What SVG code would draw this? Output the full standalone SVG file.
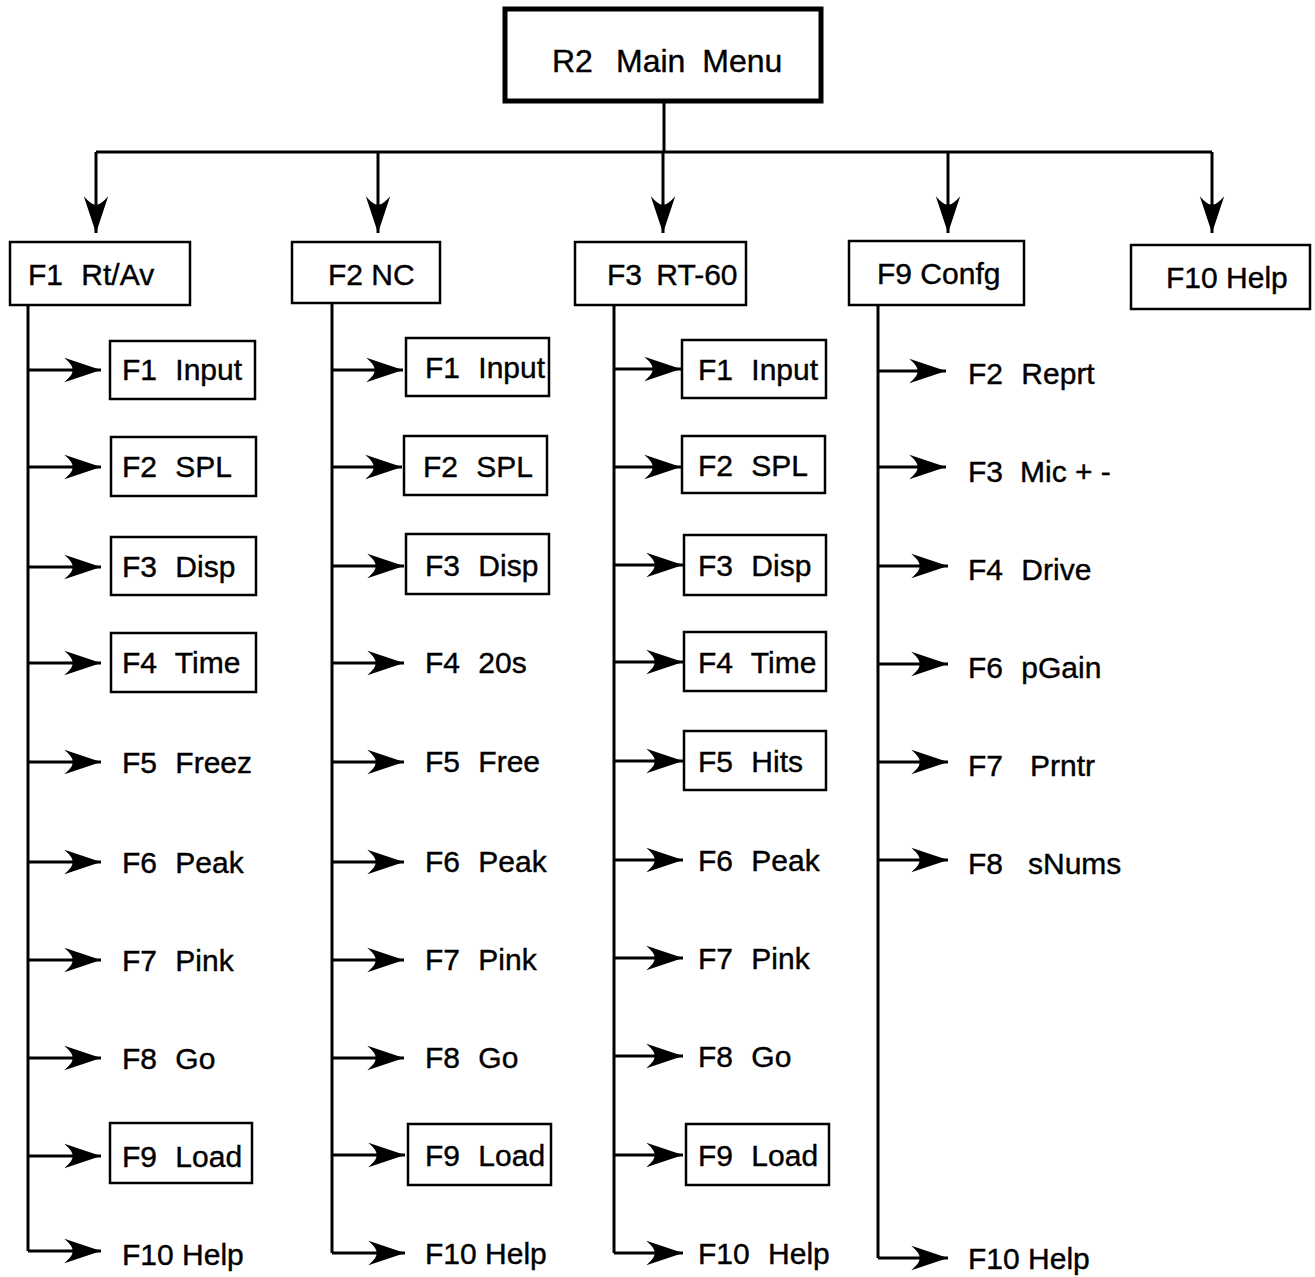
<svg xmlns="http://www.w3.org/2000/svg" width="1315" height="1277" viewBox="0 0 1315 1277">
<style>
text{font-family:"Liberation Sans",Arial,sans-serif;fill:#000;stroke:#000;stroke-width:0.4;word-spacing:10px}
.box{fill:#fff;stroke:#000;stroke-width:2.5}
.main{fill:#fff;stroke:#000;stroke-width:5}
.t1{font-size:30px}
.t2{font-size:30px}
.ns{word-spacing:0}
.ln{stroke:#000;stroke-width:3;fill:none}
.ar{stroke:#000;stroke-width:3;fill:none;marker-end:url(#ah)}
</style>
<defs>
<marker id="ah" markerUnits="userSpaceOnUse" markerWidth="40" markerHeight="30" viewBox="-34 -13 36 26" refX="0" refY="0" orient="auto">
<path d="M0,0 L-33,-11 Q-24,-3 -26,0 Q-24,3 -33,11 Z" fill="#000"/>
</marker>
</defs>
<rect width="1315" height="1277" fill="#fff"/>
<g id="connectors">
<line class="ln" x1="664" y1="102" x2="664" y2="152"/>
<line class="ln" x1="96" y1="152" x2="1212" y2="152"/>
<line class="ar" x1="96" y1="152" x2="96" y2="233"/>
<line class="ar" x1="378" y1="152" x2="378" y2="233"/>
<line class="ar" x1="663" y1="152" x2="663" y2="233"/>
<line class="ar" x1="948" y1="152" x2="948" y2="233"/>
<line class="ar" x1="1212" y1="152" x2="1212" y2="233"/>
<path class="ln" d="M28,305 V1251"/>
<line class="ar" x1="28" y1="370" x2="101" y2="370"/>
<line class="ar" x1="28" y1="467" x2="101" y2="467"/>
<line class="ar" x1="28" y1="567" x2="101" y2="567"/>
<line class="ar" x1="28" y1="663" x2="101" y2="663"/>
<line class="ar" x1="28" y1="762" x2="101" y2="762"/>
<line class="ar" x1="28" y1="862" x2="101" y2="862"/>
<line class="ar" x1="28" y1="960" x2="101" y2="960"/>
<line class="ar" x1="28" y1="1058" x2="101" y2="1058"/>
<line class="ar" x1="28" y1="1156" x2="101" y2="1156"/>
<line class="ar" x1="28" y1="1251" x2="101" y2="1251"/>
<path class="ln" d="M332,303 V1253"/>
<line class="ar" x1="332" y1="370" x2="403" y2="370"/>
<line class="ar" x1="332" y1="467" x2="402" y2="467"/>
<line class="ar" x1="332" y1="566" x2="404" y2="566"/>
<line class="ar" x1="332" y1="663" x2="404" y2="663"/>
<line class="ar" x1="332" y1="762" x2="404" y2="762"/>
<line class="ar" x1="332" y1="862" x2="404" y2="862"/>
<line class="ar" x1="332" y1="960" x2="404" y2="960"/>
<line class="ar" x1="332" y1="1058" x2="404" y2="1058"/>
<line class="ar" x1="332" y1="1155" x2="405" y2="1155"/>
<line class="ar" x1="332" y1="1253" x2="405" y2="1253"/>
<path class="ln" d="M614,305 V1253"/>
<line class="ar" x1="614" y1="369" x2="681" y2="369"/>
<line class="ar" x1="614" y1="467" x2="681" y2="467"/>
<line class="ar" x1="614" y1="565" x2="683" y2="565"/>
<line class="ar" x1="614" y1="662" x2="683" y2="662"/>
<line class="ar" x1="614" y1="761" x2="683" y2="761"/>
<line class="ar" x1="614" y1="860" x2="683" y2="860"/>
<line class="ar" x1="614" y1="958" x2="683" y2="958"/>
<line class="ar" x1="614" y1="1056" x2="683" y2="1056"/>
<line class="ar" x1="614" y1="1155" x2="683" y2="1155"/>
<line class="ar" x1="614" y1="1253" x2="683" y2="1253"/>
<path class="ln" d="M878,305 V1258"/>
<line class="ar" x1="878" y1="371" x2="946" y2="371"/>
<line class="ar" x1="878" y1="467" x2="946" y2="467"/>
<line class="ar" x1="878" y1="566" x2="948" y2="566"/>
<line class="ar" x1="878" y1="664" x2="948" y2="664"/>
<line class="ar" x1="878" y1="762" x2="948" y2="762"/>
<line class="ar" x1="878" y1="860" x2="948" y2="860"/>
<line class="ar" x1="878" y1="1258" x2="948" y2="1258"/>
</g>
<g id="main"><rect class="main" x="505" y="9" width="316" height="92"/><text x="552" y="72" style="font-size:32px;word-spacing:0">R2 <tspan x="616" style="word-spacing:8px">Main Menu</tspan></text></g>
<g id="rtav"><rect class="box" x="10" y="242" width="180" height="63"/><text class="t1" x="28" y="285">F1 Rt/Av</text></g>
<g id="nc"><rect class="box" x="292" y="242" width="148" height="61"/><text class="t1 ns" x="328" y="285">F2 NC</text></g>
<g id="rt60"><rect class="box" x="575" y="242" width="171" height="63"/><text class="t1" x="607" y="285" style="word-spacing:6px">F3 RT-60</text></g>
<g id="confg"><rect class="box" x="849" y="241" width="175" height="64"/><text class="t1 ns" x="877" y="284">F9 Confg</text></g>
<g id="help"><rect class="box" x="1131" y="245" width="179" height="64"/><text class="t1 ns" x="1166" y="288">F10 Help</text></g>

<g id="c1-input"><rect class="box" x="110" y="341" width="145" height="58"/><text class="t2" x="122" y="380">F1 Input</text></g>
<g id="c1-spl"><rect class="box" x="111" y="437" width="145" height="59"/><text class="t2" x="122" y="477">F2 SPL</text></g>
<g id="c1-disp"><rect class="box" x="111" y="537" width="145" height="58"/><text class="t2" x="122" y="577">F3 Disp</text></g>
<g id="c1-time"><rect class="box" x="111" y="633" width="145" height="59"/><text class="t2" x="122" y="673">F4 Time</text></g>
<g id="c1-freez"><text class="t2" x="122" y="773">F5 Freez</text></g>
<g id="c1-peak"><text class="t2" x="122" y="873">F6 Peak</text></g>
<g id="c1-pink"><text class="t2" x="122" y="971">F7 Pink</text></g>
<g id="c1-go"><text class="t2" x="122" y="1069">F8 Go</text></g>
<g id="c1-load"><rect class="box" x="110" y="1123" width="142" height="60"/><text class="t2" x="122" y="1167">F9 Load</text></g>
<g id="c1-help"><text class="t2 ns" x="122" y="1265">F10 Help</text></g>

<g id="c2-input"><rect class="box" x="406" y="338" width="143" height="58"/><text class="t2" x="425" y="378">F1 Input</text></g>
<g id="c2-spl"><rect class="box" x="404" y="436" width="143" height="59"/><text class="t2" x="423" y="477">F2 SPL</text></g>
<g id="c2-disp"><rect class="box" x="406" y="534" width="143" height="60"/><text class="t2" x="425" y="576">F3 Disp</text></g>
<g id="c2-20s"><text class="t2" x="425" y="673">F4 20s</text></g>
<g id="c2-free"><text class="t2" x="425" y="772">F5 Free</text></g>
<g id="c2-peak"><text class="t2" x="425" y="872">F6 Peak</text></g>
<g id="c2-pink"><text class="t2" x="425" y="970">F7 Pink</text></g>
<g id="c2-go"><text class="t2" x="425" y="1068">F8 Go</text></g>
<g id="c2-load"><rect class="box" x="408" y="1124" width="143" height="61"/><text class="t2" x="425" y="1166">F9 Load</text></g>
<g id="c2-help"><text class="t2 ns" x="425" y="1264">F10 Help</text></g>

<g id="c3-input"><rect class="box" x="682" y="340" width="144" height="58"/><text class="t2" x="698" y="380">F1 Input</text></g>
<g id="c3-spl"><rect class="box" x="682" y="436" width="143" height="57"/><text class="t2" x="698" y="476">F2 SPL</text></g>
<g id="c3-disp"><rect class="box" x="684" y="535" width="142" height="60"/><text class="t2" x="698" y="576">F3 Disp</text></g>
<g id="c3-time"><rect class="box" x="684" y="632" width="142" height="59"/><text class="t2" x="698" y="673">F4 Time</text></g>
<g id="c3-hits"><rect class="box" x="684" y="731" width="142" height="59"/><text class="t2" x="698" y="772">F5 Hits</text></g>
<g id="c3-peak"><text class="t2" x="698" y="871">F6 Peak</text></g>
<g id="c3-pink"><text class="t2" x="698" y="969">F7 Pink</text></g>
<g id="c3-go"><text class="t2" x="698" y="1067">F8 Go</text></g>
<g id="c3-load"><rect class="box" x="686" y="1124" width="143" height="61"/><text class="t2" x="698" y="1166">F9 Load</text></g>
<g id="c3-help"><text class="t2" x="698" y="1264">F10 Help</text></g>

<g id="c4-reprt"><text class="t2" x="968" y="384">F2 Reprt</text></g>
<g id="c4-mic"><text class="t2" x="968" y="482" style="word-spacing:0">F3 <tspan x="1020">Mic + -</tspan></text></g>
<g id="c4-drive"><text class="t2" x="968" y="580">F4 Drive</text></g>
<g id="c4-pgain"><text class="t2" x="968" y="678">F6 pGain</text></g>
<g id="c4-prntr"><text class="t2" x="968" y="776" style="word-spacing:0">F7 <tspan x="1030">Prntr</tspan></text></g>
<g id="c4-snums"><text class="t2" x="968" y="874" style="word-spacing:0">F8 <tspan x="1028">sNums</tspan></text></g>
<g id="c4-help"><text class="t2 ns" x="968" y="1269">F10 Help</text></g>
</svg>
